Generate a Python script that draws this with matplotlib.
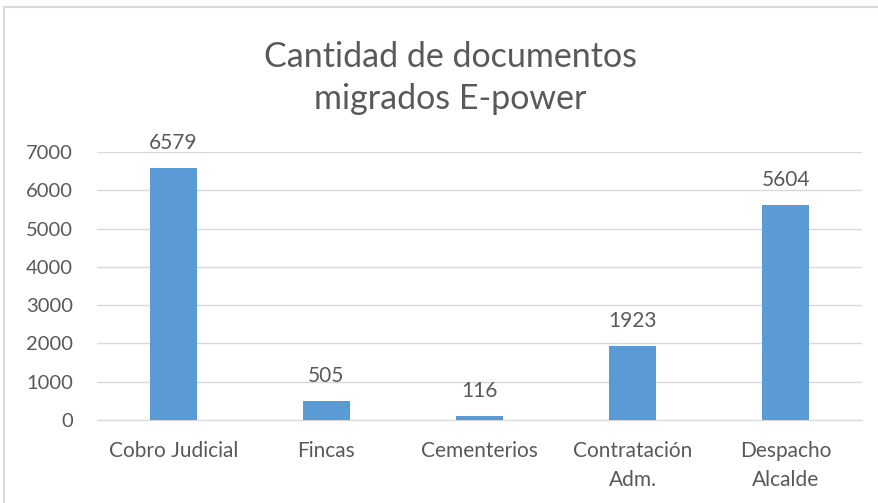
import matplotlib
matplotlib.use("Agg")
import matplotlib.pyplot as plt
from matplotlib.patches import Rectangle

categories = ["Cobro Judicial", "Fincas", "Cementerios", "Contratación\nAdm.", "Despacho\nAlcalde"]
documentos = [6579, 505, 116, 1923, 5604]
y_ticks = [0, 1000, 2000, 3000, 4000, 5000, 6000, 7000]

plt.rcParams['font.family'] = ['Lato', 'DejaVu Sans']
text_color = '#595959'
bar_color = '#5B9BD5'
grid_color = '#D9D9D9'

fig = plt.figure(figsize=(8.79, 5.03), dpi=100)
ax = fig.add_axes([0.110, 0.165, 0.871, 0.533])

x = range(len(categories))
bars = ax.bar(x, documentos, width=0.31, color=bar_color, zorder=3)

for xi, v in zip(x, documentos):
    ax.annotate(str(v), (xi, v), xytext=(0, 18), textcoords='offset points',
                ha='center', va='center', fontsize=15, color=text_color)

ax.set_xlim(-0.5, len(categories) - 0.5)
ax.set_ylim(0, 7000)
ax.set_yticks(y_ticks)
ax.set_xticks(list(x))
ax.set_xticklabels(categories, linespacing=1.55)
ax.tick_params(axis='both', length=0, labelsize=15, colors=text_color)
ax.tick_params(axis='y', labelsize=14.5)
ax.tick_params(axis='x', pad=15)
ax.tick_params(axis='y', pad=17)
ax.yaxis.grid(True, color=grid_color, linewidth=1, zorder=0)
for side in ['top', 'right', 'left']:
    ax.spines[side].set_visible(False)
ax.spines['bottom'].set_color(grid_color)

fig.text(0.512, 0.845, "Cantidad de documentos\nmigrados E-power", ha='center', va='center',
         fontsize=24.5, color=text_color, linespacing=1.35)

fig.add_artist(Rectangle((0.005, -0.01), 1.2, 0.996, transform=fig.transFigure,
                         fill=False, edgecolor=grid_color, linewidth=1.5))

fig.savefig("out.png", dpi=100)
